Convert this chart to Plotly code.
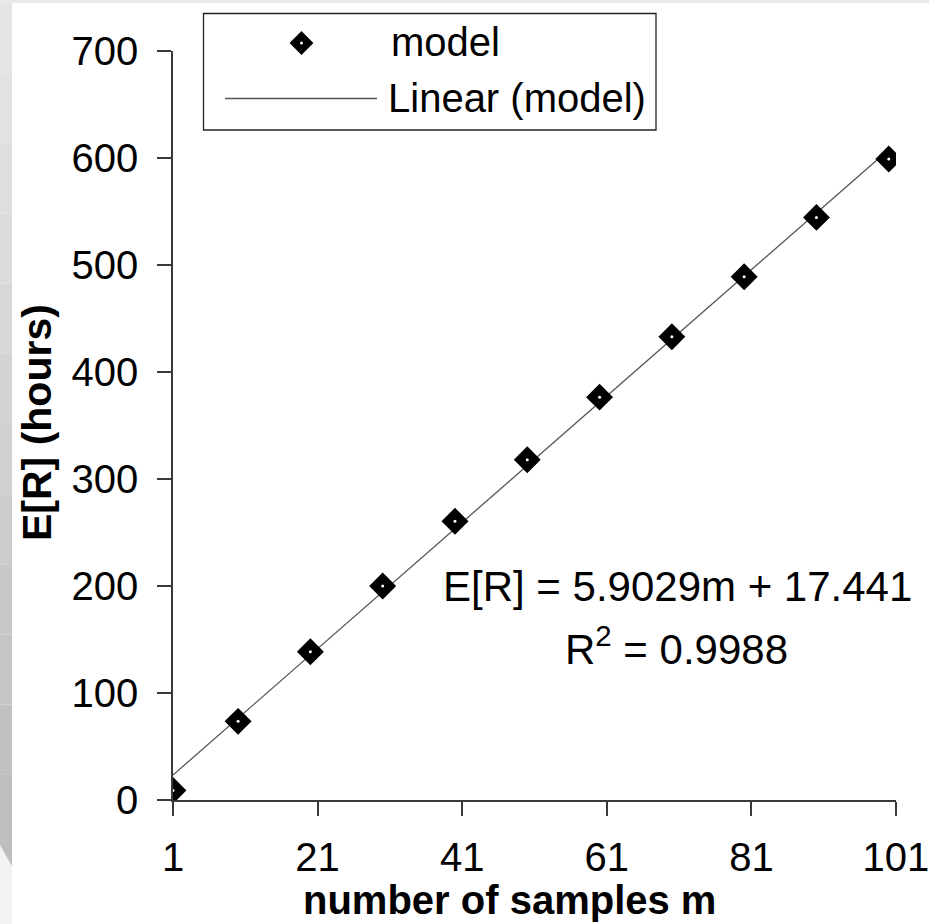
import plotly.graph_objects as go

# ---- data ----
m_values = [1, 10, 20, 30, 40, 50, 60, 70, 80, 90, 100]
er_values = [8.9, 73.5, 138.5, 200.0, 260.5, 318.0, 376.5, 433.0, 489.0, 544.5, 599.0]
slope = 5.9029
intercept = 17.441
r_squared = 0.9988
x_tick_vals = [1, 21, 41, 61, 81, 101]
y_tick_vals = [0, 100, 200, 300, 400, 500, 600, 700]
series_name = "model"
trend_name = "Linear (model)"
x_title = "number of samples m"
y_title = "E[R] (hours)"

# trendline computed from the fit coefficients over the data range
trend_x = [min(m_values), max(m_values)]
trend_y = [slope * v + intercept for v in trend_x]

W, H = 929, 924
L, R, T, B = 173, 33, 51, 124
PW, PH = W - L - R, H - T - B


def px(xp):
    return (xp - L) / PW


def py(yp):
    return (H - B - yp) / PH


FONT = "Liberation Sans, Arial, sans-serif"
AXIS_COLOR = "#3a3a3a"

fig = go.Figure()
fig.add_trace(go.Scatter(
    x=trend_x, y=trend_y, mode="lines", name=trend_name,
    line=dict(color="#555555", width=1.3), showlegend=False, hoverinfo="skip"))
fig.add_trace(go.Scatter(
    x=m_values, y=er_values, mode="markers", name=series_name,
    marker=dict(symbol="diamond", size=18, color="black",
                line=dict(color="black", width=2.5)),
    showlegend=False))
fig.add_trace(go.Scatter(
    x=m_values, y=er_values, mode="markers", name=series_name,
    marker=dict(symbol="circle", size=3, color="white", line=dict(width=0)),
    showlegend=False, hoverinfo="skip"))

shapes = []
# slide-like background: light top band and a grey strip on the left
shapes.append(dict(type="rect", xref="paper", yref="paper",
                   x0=px(0), x1=px(W), y0=py(3), y1=py(0),
                   fillcolor="#e9e9e9", line=dict(width=0), layer="below"))
n_steps = 12
top, bot = 3, 845
for i in range(n_steps):
    y0p = top + (bot - top) * i / n_steps
    y1p = top + (bot - top) * (i + 1) / n_steps
    g = int(0xe6 - (0xe6 - 0xbe) * i / (n_steps - 1))
    shapes.append(dict(type="rect", xref="paper", yref="paper",
                       x0=px(0), x1=px(12), y0=py(y1p), y1=py(y0p),
                       fillcolor=f"rgb({g},{g},{g})", line=dict(width=0), layer="below"))
shapes.append(dict(type="rect", xref="paper", yref="paper",
                   x0=px(0), x1=px(12), y0=py(H), y1=py(bot),
                   fillcolor="#f3f3f3", line=dict(width=0), layer="below"))
shapes.append(dict(type="path", xref="paper", yref="paper",
                   path=f"M {px(0)},{py(bot)} L {px(12)},{py(866)} L {px(12)},{py(bot)} Z",
                   fillcolor="rgb(190,190,190)", line=dict(width=0), layer="below"))

# legend box
shapes.append(dict(type="rect", xref="paper", yref="paper",
                   x0=px(203.5), x1=px(656), y0=py(130), y1=py(13.5),
                   fillcolor="white", line=dict(color="#222222", width=1.3)))
shapes.append(dict(type="line", xref="paper", yref="paper",
                   x0=px(225), x1=px(377), y0=py(98.5), y1=py(98.5),
                   line=dict(color="#555555", width=1.3)))
shapes.append(dict(type="path", xref="paper", yref="paper",
                   xsizemode="pixel", ysizemode="pixel",
                   xanchor=px(301.5), yanchor=py(43),
                   path="M -10.5,0 L 0,10.5 L 10.5,0 L 0,-10.5 Z",
                   fillcolor="black", line=dict(color="black", width=2)))
shapes.append(dict(type="circle", xref="paper", yref="paper",
                   x0=px(300), x1=px(303), y0=py(44.5), y1=py(41.5),
                   fillcolor="white", line=dict(width=0)))

annotations = [
    dict(text=series_name, xref="paper", yref="paper", x=px(389), y=py(42),
         xanchor="left", yanchor="middle", showarrow=False,
         font=dict(family=FONT, size=40, color="black")),
    dict(text=trend_name, xref="paper", yref="paper", x=px(386), y=py(98),
         xanchor="left", yanchor="middle", showarrow=False,
         font=dict(family=FONT, size=40, color="black")),
    dict(text=f"E[R] = {slope}m + {intercept}", xref="paper", yref="paper",
         x=px(677), y=py(586), xanchor="center", yanchor="middle", showarrow=False,
         font=dict(family=FONT, size=42, color="black")),
    dict(text=f"R<sup>2</sup> = {r_squared}", xref="paper", yref="paper",
         x=px(676), y=py(646), xanchor="center", yanchor="middle", showarrow=False,
         font=dict(family=FONT, size=42, color="black")),
    dict(text=f"<b>{x_title}</b>", xref="paper", yref="paper",
         x=px(509), y=py(900), xanchor="center", yanchor="middle", showarrow=False,
         font=dict(family=FONT, size=40, color="black")),
    dict(text=f"<b>{y_title}</b>", xref="paper", yref="paper",
         x=px(37), y=py(423), xanchor="center", yanchor="middle", showarrow=False,
         textangle=-90, font=dict(family=FONT, size=41, color="black")),
]

fig.update_layout(
    width=W, height=H,
    margin=dict(l=L, r=R, t=T, b=B, pad=0, autoexpand=False),
    paper_bgcolor="white", plot_bgcolor="white",
    showlegend=False,
    shapes=shapes, annotations=annotations,
    font=dict(family=FONT, color="black"),
)
fig.update_xaxes(
    range=[1, 101.001], tickmode="array", tickvals=x_tick_vals,
    ticktext=[str(v) for v in x_tick_vals],
    showgrid=False, zeroline=False, showline=True, automargin=False,
    linecolor=AXIS_COLOR, linewidth=1.5,
    ticks="outside", ticklen=14, tickwidth=1.5, tickcolor=AXIS_COLOR,
    tickfont=dict(family=FONT, size=40, color="black"),
    ticklabelstandoff=7, ticklabeloverflow="allow",
)
fig.update_yaxes(
    range=[0, 700.001], tickmode="array", tickvals=y_tick_vals,
    showgrid=False, zeroline=False, showline=True, automargin=False,
    linecolor=AXIS_COLOR, linewidth=1.5,
    ticks="outside", ticklen=14, tickwidth=1.5, tickcolor=AXIS_COLOR,
    tickfont=dict(family=FONT, size=40, color="black"),
    ticklabelstandoff=11,
)

fig.write_html("out.html",
               post_script="document.body.style.overflow='hidden';document.body.style.margin='0';")
